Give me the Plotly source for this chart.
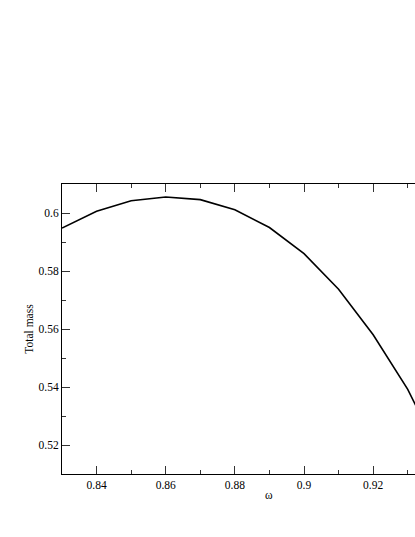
"""Total mass against omega, single black curve on a framed serif plot."""

import plotly.graph_objects as go

omega = [0.83, 0.84, 0.85, 0.86, 0.87, 0.88, 0.89, 0.90, 0.91, 0.92, 0.93, 0.94]
total_mass = [0.5948, 0.6006, 0.6042, 0.6055, 0.6046, 0.6011, 0.5950,
              0.5860, 0.5737, 0.5580, 0.5392, 0.5150]
x_ticks = [0.84, 0.86, 0.88, 0.90, 0.92]
x_tick_labels = ["0.84", "0.86", "0.88", "0.9", "0.92"]
y_ticks = [0.52, 0.54, 0.56, 0.58, 0.60]
y_tick_labels = ["0.52", "0.54", "0.56", "0.58", "0.6"]

FONT = "Liberation Serif, Times New Roman, serif"

fig = go.Figure()
fig.add_trace(
    go.Scatter(
        x=omega,
        y=total_mass,
        mode="lines",
        line={"color": "black", "width": 1.6},
        showlegend=False,
    )
)

axis_common = dict(
    showline=True,
    linecolor="black",
    linewidth=1,
    showgrid=False,
    zeroline=False,
    ticks="inside",
    ticklen=8,
    tickwidth=1,
    tickcolor="#333333",
    tickfont={"family": FONT, "size": 11.5, "color": "black"},
    minor={"ticks": "inside", "ticklen": 4, "tickcolor": "#333333", "tickwidth": 1},
)

fig.update_layout(
    width=415,
    height=537,
    margin={"l": 62, "r": 0, "t": 184, "b": 63},
    paper_bgcolor="white",
    plot_bgcolor="white",
    font={"family": FONT, "color": "black"},
    xaxis=dict(
        axis_common,
        range=[0.83, 0.9321],
        tickvals=x_ticks,
        ticktext=x_tick_labels,
        minor=dict(axis_common["minor"], dtick=0.01, tick0=0.83),
        mirror="ticks",
    ),
    yaxis=dict(
        axis_common,
        range=[0.51, 0.61],
        tickvals=y_ticks,
        ticktext=y_tick_labels,
        minor=dict(axis_common["minor"], dtick=0.01, tick0=0.51),
        title={"text": "Total mass", "font": {"family": FONT, "size": 11.5}, "standoff": 2},
    ),
    annotations=[
        dict(
            x=0.89, xref="x", y=-0.072, yref="paper",
            text="ω", showarrow=False,
            font={"family": FONT, "size": 11.5, "color": "black"},
            xanchor="center", yanchor="middle",
        )
    ],
)

# the page is photographed edge to edge, so drop the browser's default body margin
fig.write_html(
    "out.html",
    config={"displayModeBar": False},
    post_script="document.body.style.margin='0';document.body.style.overflow='hidden';",
)
